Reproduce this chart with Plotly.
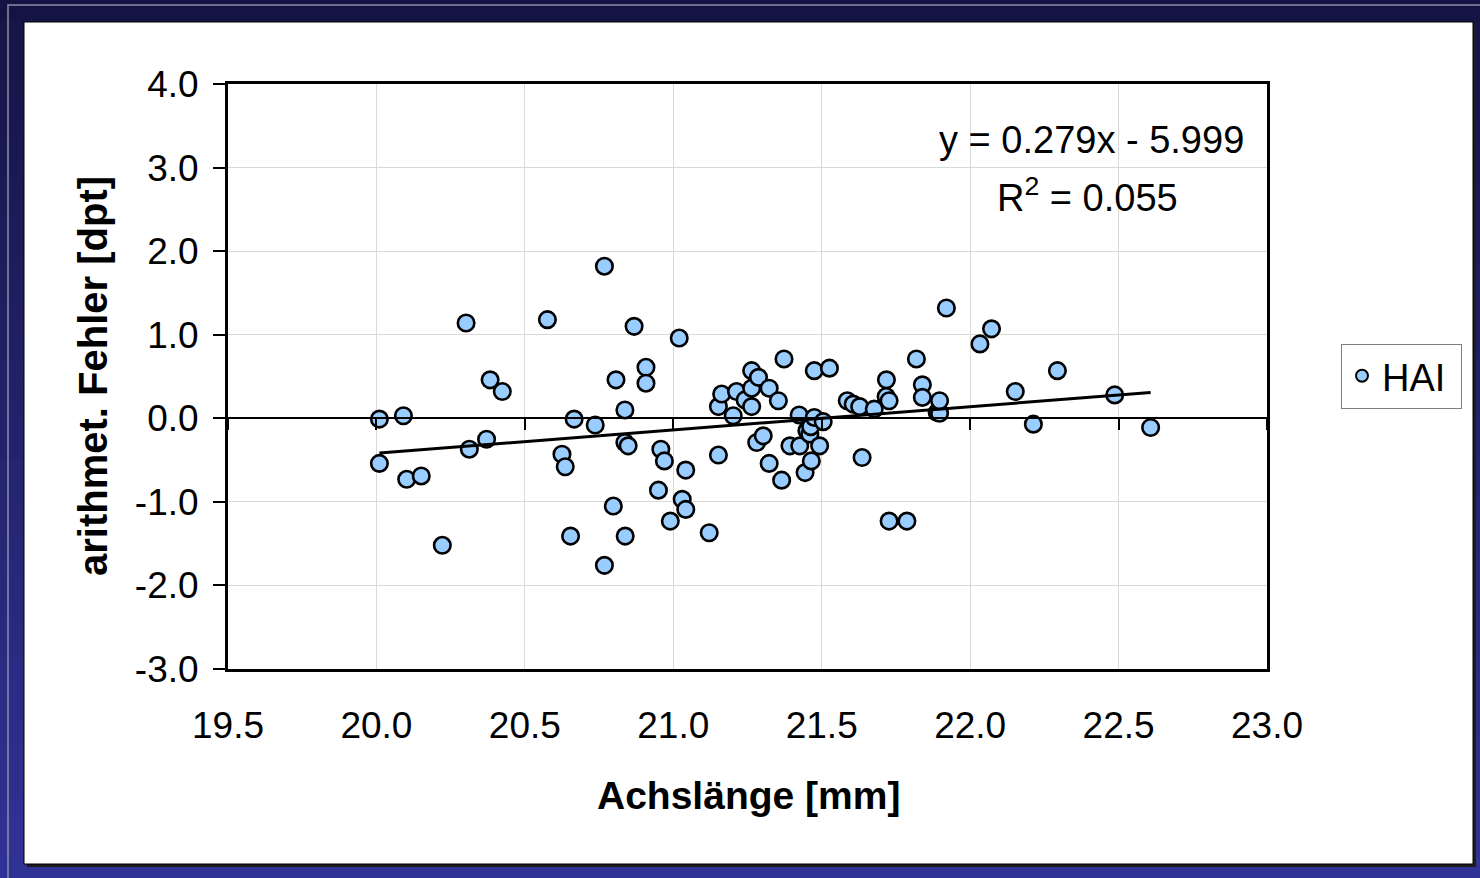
import plotly.graph_objects as go

# ---------------- data ----------------
axial_length = [
    20.010, 20.010, 20.091, 20.102, 20.151, 20.222, 20.302, 20.313, 20.371, 20.383,
    20.424, 20.576, 20.625, 20.636, 20.654, 20.666, 20.737, 20.768, 20.768, 20.798,
    20.807, 20.837, 20.837, 20.848, 20.838, 20.868, 20.908, 20.908, 20.950, 20.958,
    20.970, 20.990, 21.020, 21.030, 21.042, 21.042, 21.121, 21.152, 21.152, 21.163,
    21.202, 21.213, 21.242, 21.264, 21.264, 21.264, 21.281, 21.287, 21.303, 21.323,
    21.323, 21.354, 21.365, 21.373, 21.393, 21.424, 21.426, 21.444, 21.450, 21.460,
    21.463, 21.465, 21.475, 21.475, 21.493, 21.505, 21.526, 21.586, 21.606, 21.628,
    21.636, 21.677, 21.718, 21.717, 21.727, 21.727, 21.787, 21.819, 21.839, 21.839,
    21.889, 21.897, 21.897, 21.920, 22.033, 22.072, 22.152, 22.213, 22.294, 22.487,
    22.608,
]
arith_error = [
    -0.01, -0.54, 0.03, -0.73, -0.69, -1.52, 1.14, -0.37, -0.25, 0.46,
    0.32, 1.18, -0.43, -0.58, -1.41, -0.01, -0.08, 1.82, -1.76, -1.05,
    0.46, 0.10, -0.29, -0.33, -1.41, 1.10, 0.61, 0.42, -0.86, -0.37,
    -0.51, -1.23, 0.96, -0.97, -1.09, -0.62, -1.37, 0.14, -0.44, 0.29,
    0.03, 0.32, 0.22, 0.57, 0.36, 0.14, -0.29, 0.49, -0.21, 0.36,
    -0.54, 0.21, -0.74, 0.71, -0.33, 0.04, -0.33, -0.65, -0.15, -0.19,
    -0.10, -0.51, 0.57, 0.01, -0.33, -0.04, 0.60, 0.21, 0.17, 0.14,
    -0.47, 0.11, 0.46, 0.26, 0.21, -1.23, -1.23, 0.71, 0.40, 0.25,
    0.07, 0.06, 0.21, 1.32, 0.89, 1.07, 0.32, -0.07, 0.57, 0.28,
    -0.11,
]
trend_slope = 0.279
trend_intercept = -5.999
x_ticks = [19.5, 20.0, 20.5, 21.0, 21.5, 22.0, 22.5, 23.0]
y_ticks = [-3.0, -2.0, -1.0, 0.0, 1.0, 2.0, 3.0, 4.0]
x_tick_text = ["%.1f" % v for v in x_ticks]
y_tick_text = ["%.1f" % v for v in y_ticks]
series_name = "HAI"
x_title = "Achslänge [mm]"
y_title = "arithmet. Fehler [dpt]"
eq_text = "y = 0.279x - 5.999"
r2_text = "R<sup>2</sup> = 0.055"

# ---------------- layout geometry ----------------
W, H = 1480, 878
L, R, T, B = 228, 213, 84, 209
PW, PH = W - L - R, H - T - B


def px(x):
    return (x - L) / PW


def py(y):
    return (H - B - y) / PH


FONT = "Liberation Sans, Arial, sans-serif"

fig = go.Figure()

fig.add_trace(go.Scatter(
    x=axial_length, y=arith_error, mode="markers", name=series_name + "\u00a0",
    marker=dict(size=16.5, color="#99CCFF", line=dict(color="black", width=2.6)),
    hoverinfo="skip",
))

x_tr = [min(axial_length), max(axial_length)]
y_tr = [trend_slope * v + trend_intercept for v in x_tr]
fig.add_trace(go.Scatter(
    x=x_tr, y=y_tr, mode="lines", line=dict(color="black", width=3),
    showlegend=False, hoverinfo="skip", xaxis="x2", yaxis="y",
))

# ---------------- background (gradient navy + white panel) ----------------
shapes = []
n_bands = 44
c_top = (0x14, 0x14, 0x44)
c_bot = (0x31, 0x32, 0x95)
band_h = H / n_bands
for i in range(n_bands):
    t = i / (n_bands - 1)
    col = tuple(int(round(c_top[k] + (c_bot[k] - c_top[k]) * t)) for k in range(3))
    shapes.append(dict(
        type="rect", xref="paper", yref="paper", layer="below",
        x0=px(0), x1=px(W), y0=py((i + 1) * band_h + 1), y1=py(i * band_h),
        fillcolor="rgb(%d,%d,%d)" % col, line=dict(width=0),
    ))
# thin grey frame line (top/left)
shapes.append(dict(type="path", xref="paper", yref="paper", layer="below",
                   path="M %f %f L %f %f L %f %f" % (px(8), py(H), px(8), py(5), px(W), py(5)),
                   line=dict(color="#8c8ca8", width=1.5)))
# shadow
shapes.append(dict(type="rect", xref="paper", yref="paper", layer="below",
                   x0=px(27), x1=px(1476), y0=py(867), y1=py(25),
                   fillcolor="#1c1c1c", line=dict(width=0)))
# white panel
shapes.append(dict(type="rect", xref="paper", yref="paper", layer="below",
                   x0=px(24), x1=px(1473), y0=py(864), y1=py(22),
                   fillcolor="white", line=dict(color="black", width=1)))

annotations = [
    dict(text=eq_text, xref="paper", yref="paper", x=px(1246), y=py(140),
         xanchor="right", yanchor="middle", showarrow=False,
         font=dict(family=FONT, size=38, color="black")),
    dict(text=r2_text, xref="paper", yref="paper", x=px(1087), y=py(195),
         xanchor="center", yanchor="middle", showarrow=False,
         font=dict(family=FONT, size=38, color="black")),
    dict(text="<b>%s</b>" % x_title, xref="paper", yref="paper", x=px(748), y=py(795),
         xanchor="center", yanchor="middle", showarrow=False,
         font=dict(family=FONT, size=39, color="black")),
    dict(text="<b>%s</b>" % y_title, xref="paper", yref="paper", x=px(93), y=py(376),
         xanchor="center", yanchor="middle", showarrow=False, textangle=-90,
         font=dict(family=FONT, size=40, color="black")),
]

fig.update_layout(
    width=W, height=H,
    margin=dict(l=L, r=R, t=T, b=B),
    paper_bgcolor="rgb(20,20,68)",
    plot_bgcolor="white",
    font=dict(family=FONT, size=37, color="black"),
    shapes=shapes,
    annotations=annotations,
    showlegend=True,
    legend=dict(
        x=px(1341), y=py(376), xanchor="left", yanchor="middle",
        bgcolor="white", bordercolor="#7f7f7f", borderwidth=1,
        font=dict(family=FONT, size=38, color="black"),
        itemsizing="constant", tracegroupgap=0,
    ),
    xaxis=dict(
        range=[19.5, 23.0], tickvals=x_ticks, ticktext=x_tick_text,
        showgrid=True, gridcolor="#d9d9d9", gridwidth=1,
        showline=True, linecolor="black", linewidth=3, mirror=True,
        ticks="", zeroline=False, ticklabelstandoff=22,
        tickfont=dict(family=FONT, size=37, color="black"),
    ),
    xaxis2=dict(
        range=[19.5, 23.0], tickvals=x_ticks, overlaying="x", anchor="free",
        position=3 / 7, showticklabels=False, ticks="outside", ticklen=11,
        tickwidth=1.5, tickcolor="black", showline=True, linecolor="black",
        linewidth=1.5, showgrid=False, zeroline=False,
    ),
    yaxis=dict(
        range=[-3.0, 4.0], tickvals=y_ticks, ticktext=y_tick_text,
        showgrid=True, gridcolor="#d9d9d9", gridwidth=1,
        showline=True, linecolor="black", linewidth=3, mirror=True,
        ticks="outside", ticklen=12, tickwidth=1.5, tickcolor="black",
        zeroline=False, ticklabelstandoff=7,
        tickfont=dict(family=FONT, size=37, color="black"),
    ),
)

fig.write_html(
    "out.html",
    config={"displayModeBar": False},
    post_script="document.body.style.margin='0';document.body.style.overflow='hidden';",
)
